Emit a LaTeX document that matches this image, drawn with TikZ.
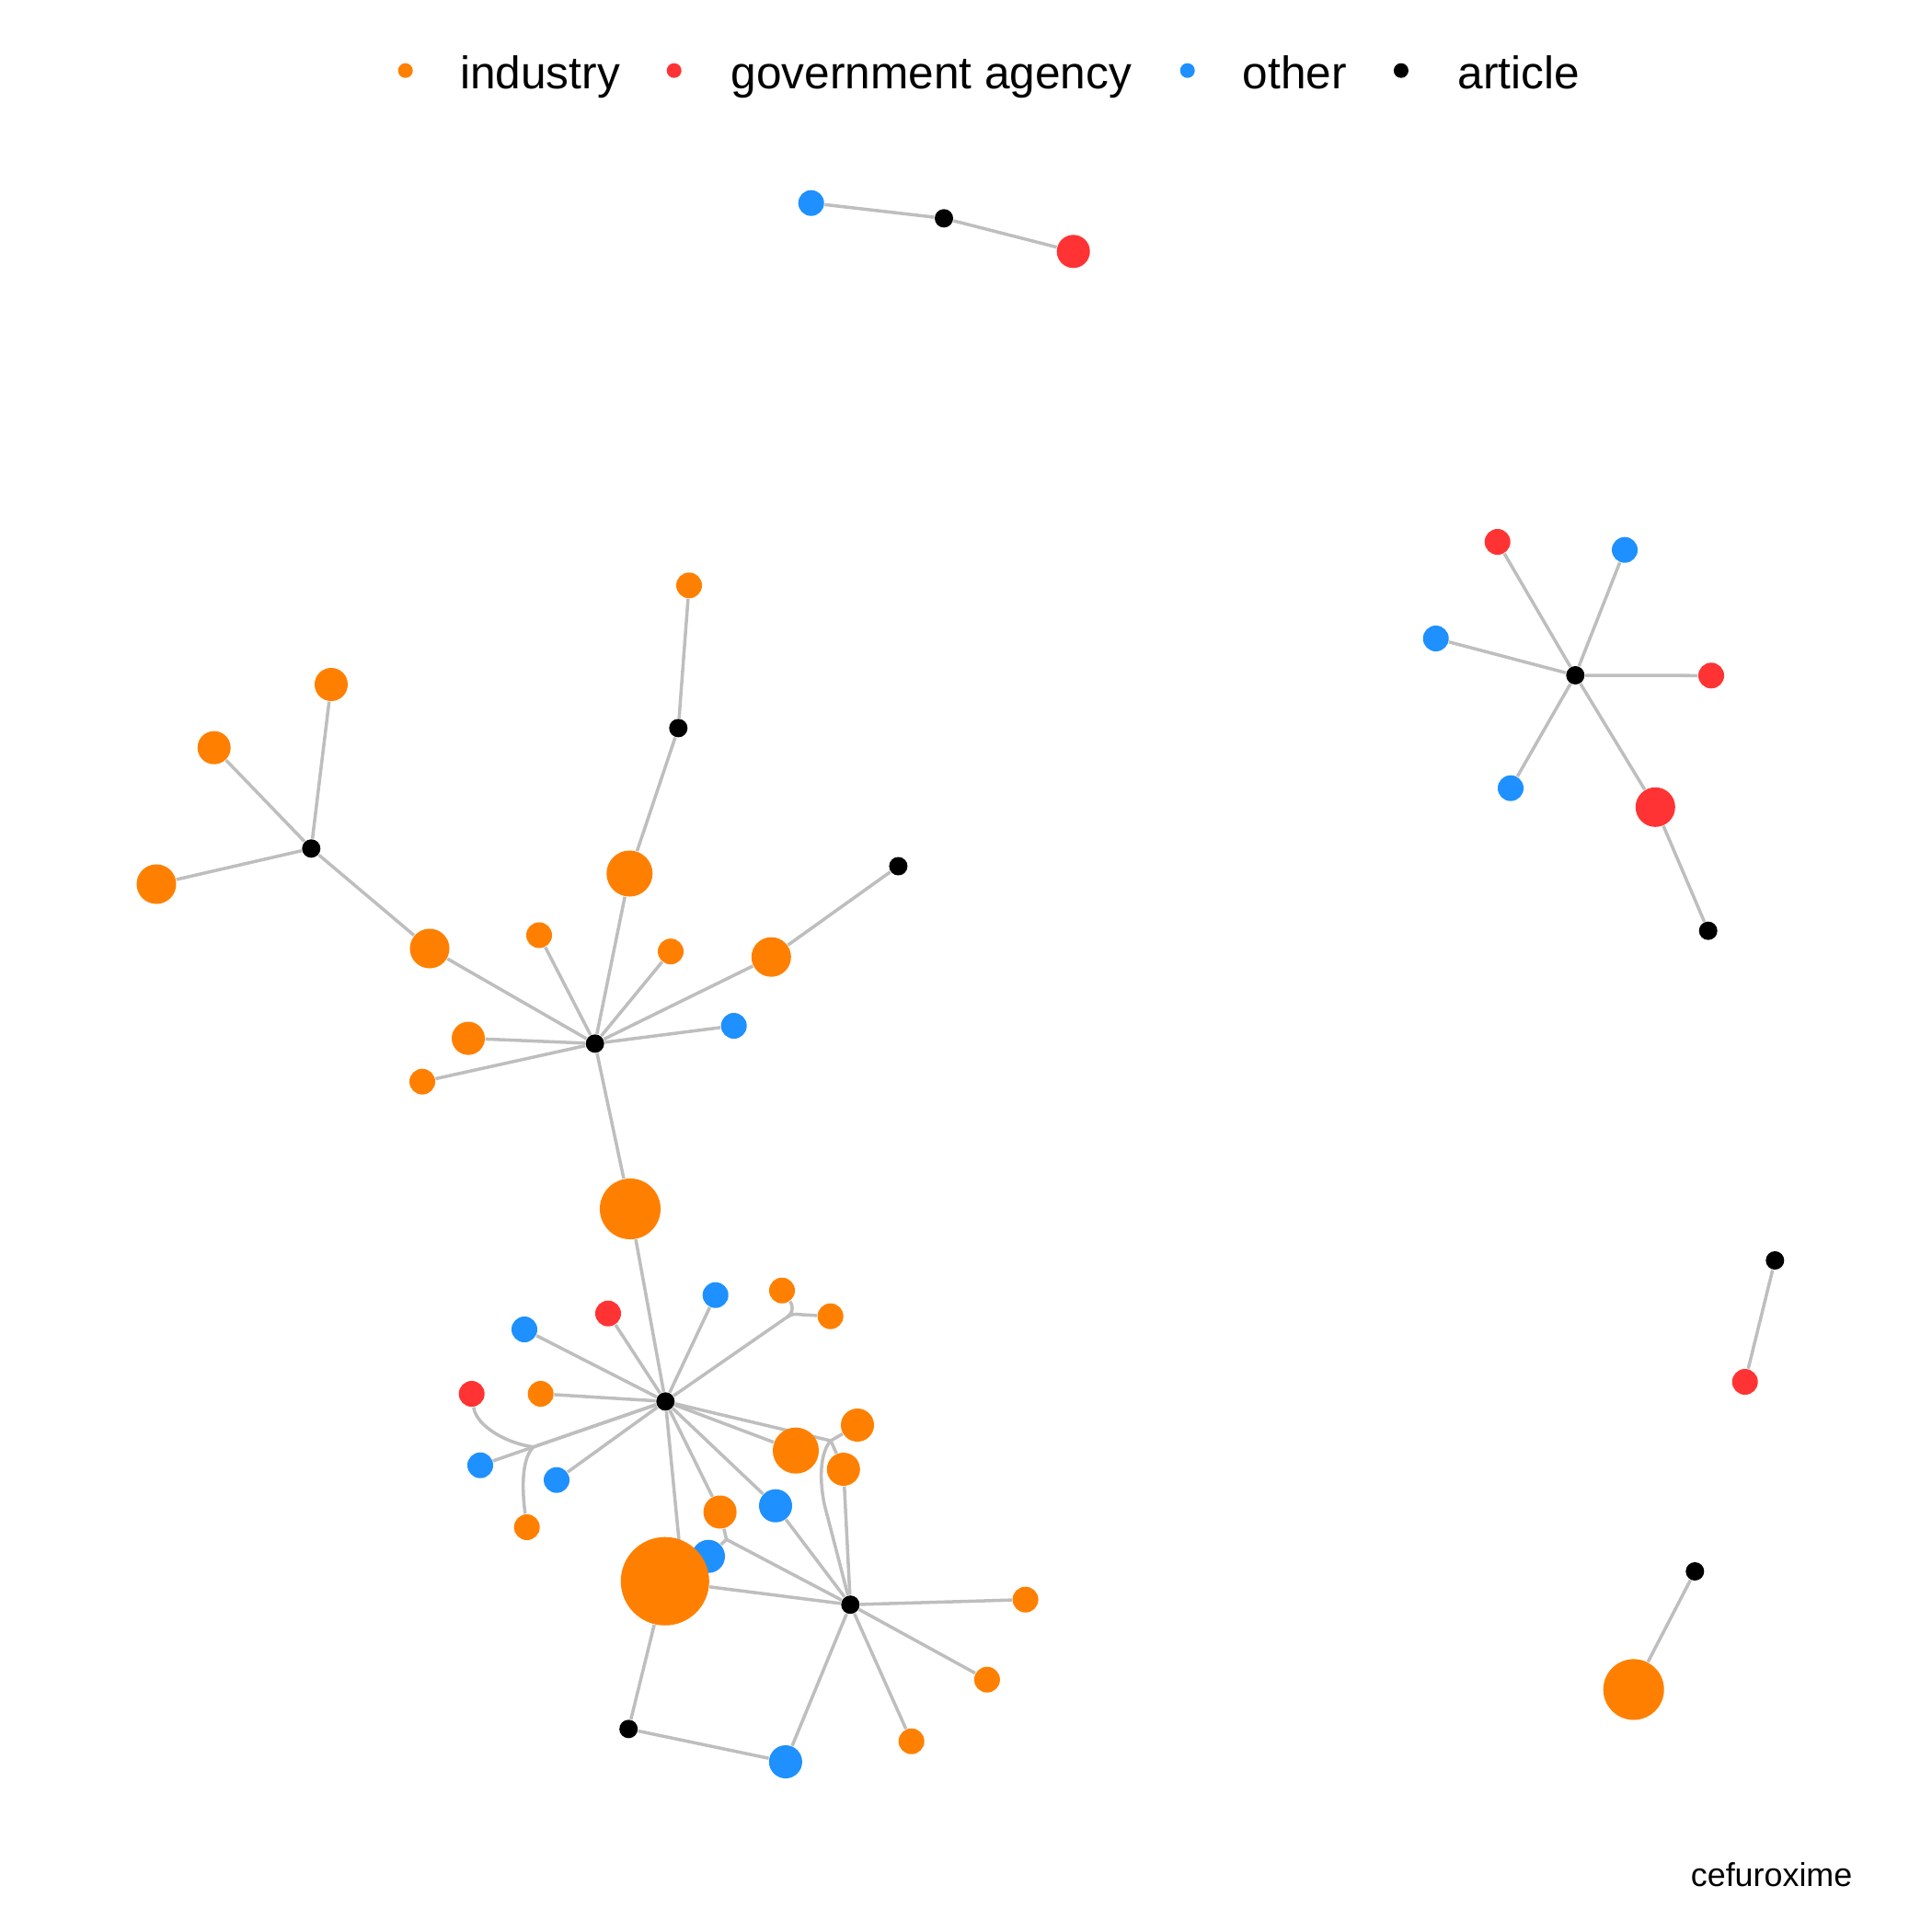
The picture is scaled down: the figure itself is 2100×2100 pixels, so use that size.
\documentclass[tikz,border=0pt]{standalone}
\usepackage{fontspec}
\setmainfont{Liberation Sans}
\usetikzlibrary{backgrounds}
\definecolor{IndOrange}{HTML}{FF8000}
\definecolor{GovRed}{HTML}{FF3333}
\definecolor{OthBlue}{HTML}{1E90FF}
\definecolor{EdgeGrey}{HTML}{BEBEBE}
\tikzset{
    dot/.style = {circle, draw=none, inner sep=0pt},
    art/.style = {dot, fill=black, minimum size=0.2cm},
    ind/.style = {dot, fill=IndOrange, minimum size=#1*0.02cm},
    gov/.style = {dot, fill=GovRed, minimum size=#1*0.02cm},
    oth/.style = {dot, fill=OthBlue, minimum size=#1*0.02cm},
    key/.style = {dot, minimum size=0.16cm},
    keytext/.style = {anchor=base west, inner sep=0pt, font=\fontsize{14.1}{16}\selectfont},
    link/.style = {draw=EdgeGrey, line width=1pt}
}
\begin{document}
\begin{tikzpicture}[x=0.01cm,y=-0.01cm]
\useasboundingbox (0,0) rectangle (2100,2100);
% legend
\node[key,fill=IndOrange] (k1) at (440.7,76.7) {};
\node[keytext] (l1) at (499.5,96.7) {industry};
\node[key,fill=GovRed] (k2) at (732.7,76.7) {};
\node[keytext] (l2) at (794,96.7) {government agency};
\node[key,fill=OthBlue] (k3) at (1290.7,76.7) {};
\node[keytext] (l3) at (1350,96.7) {other};
\node[key,fill=black] (k4) at (1522.9,76.7) {};
\node[keytext] (l4) at (1584,96.7) {article};
% top pair
\node[oth=14] (t1) at (881.7,220.7) {};
\node[art] (ta) at (1026,237.3) {};
\node[gov=18] (t2) at (1166.7,273.3) {};
% right star
\node[art] (sa) at (1712.3,734) {};
\node[gov=14] (s1) at (1627.7,589) {};
\node[oth=14] (s2) at (1766,597.7) {};
\node[oth=14] (s3) at (1560.7,694) {};
\node[gov=14] (s4) at (1860,734.3) {};
\node[oth=14] (s5) at (1642,856.7) {};
\node[gov=21.5] (s6) at (1799.3,877.3) {};
\node[art] (sb) at (1856.7,1011.7) {};
% small pairs
\node[art] (pa) at (1929.3,1370) {};
\node[gov=14] (p1) at (1896.7,1502) {};
\node[art] (qa) at (1842.3,1708) {};
\node[ind=33] (q1) at (1775.7,1836.4) {};
% left cluster
\node[art] (A) at (338.3,922.3) {};
\node[ind=18] (a1) at (360,744) {};
\node[ind=18] (a2) at (232.7,812.7) {};
\node[ind=21.5] (a3) at (170,961) {};
\node[ind=21.5] (a4) at (467,1031) {};
\node[art] (B) at (646.7,1134.3) {};
\node[ind=14] (b1) at (586,1016.5) {};
\node[ind=25] (b2) at (684.3,949.5) {};
\node[ind=14] (b3) at (729,1034.2) {};
\node[ind=21.5] (b4) at (838.3,1040.2) {};
\node[oth=14] (b5) at (797.7,1115) {};
\node[ind=18] (b6) at (509,1128.6) {};
\node[ind=14] (b7) at (459,1175.7) {};
\node[ind=33] (b8) at (685,1314) {};
\node[art] (ba) at (737.3,791.4) {};
\node[ind=14] (b9) at (749,636.3) {};
\node[art] (bb) at (976.4,941.5) {};
% lower cluster
\node[art] (C) at (723.3,1523.3) {};
\node[oth=14] (c1) at (570,1445) {};
\node[gov=14] (c2) at (661,1427.7) {};
\node[oth=14] (c3) at (777.7,1407.7) {};
\node[ind=14] (c4) at (850,1402.7) {};
\node[ind=14] (c5) at (902.7,1430.7) {};
\node[gov=14] (c6) at (512.7,1515) {};
\node[ind=14] (c7) at (587.7,1515) {};
\node[oth=14] (c8) at (522,1592.7) {};
\node[oth=14] (c9) at (605,1608.7) {};
\node[ind=14] (c10) at (572.7,1660) {};
\node[ind=25] (c11) at (865,1576.7) {};
\node[ind=18] (c12) at (932,1549) {};
\node[ind=18] (c13) at (916.8,1597) {};
\node[ind=18] (c14) at (782.6,1643.5) {};
\node[oth=18] (c15) at (843,1636.7) {};
\node[oth=18] (c16) at (770,1691.7) {};
\node[ind=48] (c17) at (722.8,1718.7) {};
\node[art] (D) at (924.3,1744.2) {};
\node[ind=14] (d1) at (1114.6,1738.7) {};
\node[ind=14] (d2) at (1072.9,1825.7) {};
\node[ind=14] (d3) at (990.7,1892.7) {};
\node[oth=18] (d4) at (853.9,1915) {};
\node[art] (E) at (683.2,1879.3) {};
% bundle points
\coordinate (JL) at (580,1572.7);
\coordinate (JU) at (855,1432);
\coordinate (JR) at (903,1566);
\coordinate (JB) at (789.6,1673.3);
\coordinate (X17) at (741,1705);
\node[anchor=base east, inner sep=0pt, font=\fontsize{10.2}{12}\selectfont] (title) at (2014,2050) {cefuroxime};
\begin{pgfonlayer}{background}
\path[link] (t1) -- (ta) -- (t2);
\foreach \n in {s1,s2,s3,s4,s5,s6} { \path[link] (sa) -- (\n); }
\path[link] (s6) -- (sb);
\path[link] (pa) -- (p1);
\path[link] (qa) -- (q1);
\foreach \n in {a1,a2,a3,a4} { \path[link] (A) -- (\n); }
\foreach \n in {a4,b1,b2,b3,b4,b5,b6,b7,b8} { \path[link] (B) -- (\n); }
\path[link] (b2) -- (ba) -- (b9);
\path[link] (b4) -- (bb);
\path[link] (b8) -- (C);
\foreach \n in {c1,c2,c3,c7,c8,c9,c11,c14,c15} { \path[link] (C) -- (\n); }
\path[link] (C) -- (JU) .. controls (862,1428) .. (872,1429) -- (c5);
\path[link] (JU) .. controls (863,1426) and (862,1419) .. (c4);
\path[link] (C) -- (JL) .. controls (555,1570) and (518,1552) .. (c6);
\path[link] (JL) .. controls (572,1580) and (565,1600) .. (c10);
\path[link] (C) -- (JR) -- (c12);
\path[link] (JR) -- (c13) -- (D);
\path[link] (JR) .. controls (892,1578) and (890,1605) .. (896,1635) -- (D);
\path[link] (c15) -- (D);
\path[link] (D) -- (JB) -- (c14);
\path[link] (JB) -- (c16);
\path[link] (C) -- (X17);
\path[link] (c17) -- (D);
\path[link] (c17) -- (E) -- (d4) -- (D);
\foreach \n in {d1,d2,d3} { \path[link] (D) -- (\n); }
\end{pgfonlayer}
\end{tikzpicture}
\end{document}
